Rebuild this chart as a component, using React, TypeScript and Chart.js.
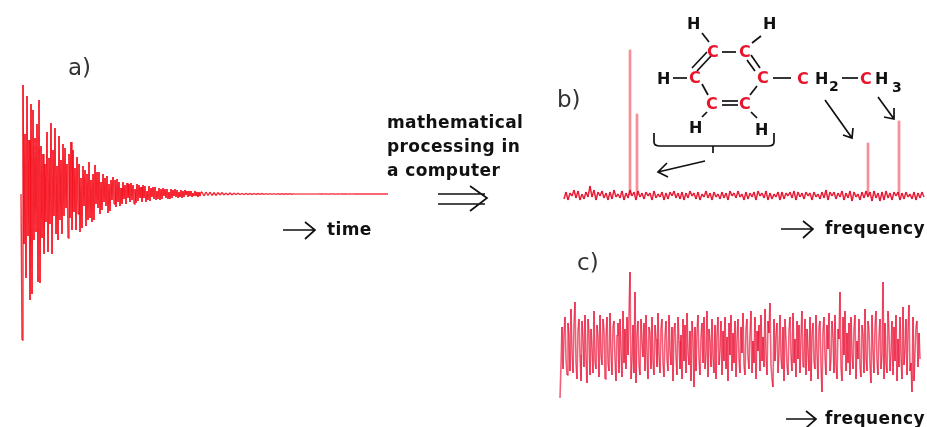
import React, { useEffect, useRef } from "react";
import { Chart, registerables } from "chart.js";

Chart.register(...registerables);

// a) free induction decay, one reading per time step
const fidHead = [
  0,-146,109,-50,60,-84,98,-42,54,-106,90,-100,84,-46,56,-38,70,-88,94,-89,48,
  -44,40,-60,30,-28,62,-58,36,-30,71,-60,44,-22,66,-40,28,-46,58,-26,34,
  -40,50,-22,46,-14,30,-44,40,-24,52,-36,44,-18,26,-36,37,-20,30,-38,16,
  -34,28,-12,24,-32,20,-26,32,-24,14,-28,20,-26,29,-10,22,-14,22,-20,12,
  -16,20,-8,16,-12,18,-19,10,-17,14,-6,17,-10,14,-13,15,-8,12,-12,6,
  -10,12,-5,9,-10,11,-4,10,-8,11,-6,9,-10,5,-9,10,-7,9,-4,7,
  -8,9,-4,8,-8,3,-6,8,-7,6,-3,7,-5,7,-6,3,-5,6,-6,5,
  -5,6,-2,5,-4,5,-5,2,-5,5,-4,4,-2,5,-3,4,-4,2,-3,4,
  -4,3,-3,4,-1,3,-3,3,-2,3,-3,1,-2,3,-2,2,-3,2,-2,2,
];
const fidTail = [
  2,-2,2,-1.5,2,-1.5,1.5,-1.5,1.5,-1,1.5,-1,1,-1,1.2,-1,1,-0.8,1,-0.8,
  0.8,-0.7,0.8,-0.6,0.6,-0.6,0.6,-0.5,0.5,-0.4,0.5,-0.4,0.4,-0.4,0.4,-0.3,0.3,-0.3,0.3,-0.2,
  0.2,-0.2,0.2,-0.2,0.2,-0.2,0.1,-0.1,0.1,-0.1,0.1,-0.1,0.1,-0.1,0.1,-0.1,0.1,-0.1,0.1,0,
  0,0.1,0,-0.1,0,0.1,0,-0.1,0,0.1,0,0,0,-0.1,0,0.1,0,0,0,0,
  0,0,0,0,0,0,0,0,0,0,0,0,0,0,
];

// b) clean spectrum: baseline noise and the four carbon peaks
const baselineB = [
  -4,3,-5,2,-1,5,-3,4,-5,1,-4,3,-2,9,-2,5,-5,3,-1,4,
  -3,2,-5,3,-4,5,-2,1,-3,4,-5,2,-3,5,-1,3,-5,4,-2,2,
  -4,3,-1,2,-5,4,-3,1,-2,3,-5,2,-4,3,-1,4,-3,2,-4,3,
  -5,2,-3,4,-1,2,-4,3,-5,1,-2,4,-3,2,-5,3,-2,1,-4,3,
  -3,2,-5,4,-1,2,-3,4,-2,1,-5,3,-4,2,-2,3,-5,4,-1,2,
  -3,4,-5,2,-4,1,-2,3,-5,3,-4,2,-1,3,-3,4,-5,3,-2,2,
  -4,3,-1,2,-5,3,-2,1,-4,3,-3,5,-5,3,-1,3,-4,2,-2,4,
  -5,2,-3,4,-6,3,-2,1,-5,3,-3,4,-2,3,-6,4,-3,2,-6,3,
  -5,4,-3,2,-5,3,-1,3,-5,2,-4,3,-2,1,-4,3,-5,2,-3,3,-2,
];
const peakFrequency = [66, 73, 304, 335];
const peakHeight = [145, 81, 52, 74];

// c) noisy spectrum, one reading per step
const noisyC = [
  -53,-20,18,-24,10,28,-14,-30,22,8,-26,36,-6,-28,20,43,-18,-34,14,26,
  -10,-36,24,6,-22,30,-12,-38,26,12,-30,16,-4,-28,34,-16,-24,20,8,-32,
  30,-10,-20,26,14,-34,6,28,-18,-26,32,-8,-30,18,24,-14,-36,10,22,-28,
  26,-6,-32,34,-18,16,-24,28,-10,30,73,-34,-16,20,-28,53,-38,10,24,-20,
  -30,26,4,-12,22,-26,30,-8,-34,18,12,-24,28,-16,-30,20,6,-22,32,-10,
  -28,16,26,-18,-32,8,24,-14,-26,30,-6,-20,18,-36,14,22,-12,-30,28,4,
  -24,10,-34,26,-16,20,-28,32,-8,-20,14,-36,24,6,-42,18,-26,12,30,-14,
  -30,8,22,-18,28,-24,-10,34,-32,16,4,-22,26,-12,-28,20,-34,10,28,-20,
  -6,24,-30,14,-16,28,-24,8,-36,22,-10,30,-26,12,-18,24,-32,6,26,-14,
  -28,18,-8,32,-20,-30,16,26,-12,-24,10,34,-28,4,-18,28,-34,14,-6,20,
  -26,30,-16,8,-22,36,-10,-30,24,12,42,-20,-34,-42,26,-16,10,22,-28,-6,
  30,-12,-24,18,-36,26,4,-20,-30,14,28,-10,-26,32,-18,6,-32,24,-14,20,
  -28,8,34,-22,-12,26,-30,16,-6,-26,28,-36,10,22,-16,-24,30,-8,-34,18,
  24,-20,-47,14,28,-12,-30,20,-4,32,-26,-14,24,8,-28,30,-18,-34,16,6,
  53,-22,-36,28,-10,34,-26,12,-18,22,-30,28,-8,-24,16,30,-34,4,-14,26,
  -22,-32,20,10,-28,36,-12,-26,24,14,-20,-38,30,-6,-28,18,34,-16,-30,8,
  26,-24,-10,63,-34,22,-18,-28,34,12,-26,-8,24,-30,18,-16,30,-36,6,-22,
  28,-12,-34,38,-20,-4,26,-30,14,40,-26,-18,-47,28,-36,-8,18,24,-22,12,-14,
];

const fidPoints = [
  ...fidHead.map((y, i) => ({ x: i, y })),
  ...fidTail.map((y, i) => ({ x: fidHead.length + i * 2, y })),
];
const baselinePoints = baselineB.map((y, i) => ({ x: i * 2, y }));
const peakPoints = peakFrequency.map((x, i) => ({ x, y: peakHeight[i] }));
const noisyPoints = noisyC.map((y, i) => ({ x: i, y }));

function hiddenScales(xMin: number, xMax: number, yMin: number, yMax: number) {
  return {
    x: { type: "linear", display: false, offset: false, min: xMin, max: xMax },
    y: { display: false, min: yMin, max: yMax },
  };
}

// Two near-identical colours so every segment is stroked on its own and the alpha builds up.
const layered = (r: number, g: number, b: number, alpha: number) => ({
  borderColor: (ctx: any) => `rgba(${r},${g},${b + (ctx.p0DataIndex % 2)},${alpha})`,
});

function makeChart(canvas: HTMLCanvasElement, datasets: any[], scales: any) {
  return new Chart(canvas, {
    type: "line",
    data: { datasets },
    options: {
      animation: false,
      responsive: false,
      layout: { padding: 0 },
      plugins: { legend: { display: false }, tooltip: { enabled: false } },
      elements: { point: { radius: 0 }, line: { tension: 0 } },
      scales,
    },
  } as any);
}

const panel = (left: number, top: number): React.CSSProperties => ({
  position: "absolute",
  left,
  top,
});

const ink = "#111";
const bonds = [
  "M702 33L709 42", "M722 52L736 52", "M752 43L761 36", "M692 68L707 52", "M697 71L711 56",
  "M751 55L760 68", "M747 60L755 71", "M673 78L687 78", "M702 84L708 95", "M757 86L750 95",
  "M722 101L738 101", "M722 105L738 105", "M707 112L702 117", "M751 112L757 118",
  "M773 78L791 78", "M842 78L858 78",
  "M654 133L654 142Q654 146 660 146L768 146Q774 146 774 142L774 133M713 146L713 153",
  "M705 161L658 172M667 163L658 172L668 177",
  "M825 100L852 138M843 135L852 138L853 128",
  "M878 97L894 119M884 117L894 119L894 108",
  "M283 230L315 230M305 222L315 230L305 239",
  "M438 194L485 194M438 204L485 204M470 186L487 198L470 211",
  "M781 229L813 229M803 221L813 229L803 238",
  "M786 419L816 419M806 411L816 419L806 428",
];
const carbons = [[707,57],[739,57],[689,83],[757,83],[706,109],[739,109],[797,84],[860,84]];
const hydrogens = [[687,29],[763,29],[657,84],[689,133],[755,135],[815,84],[875,84]];

export default function App() {
  const a = useRef<HTMLCanvasElement>(null);
  const b = useRef<HTMLCanvasElement>(null);
  const c = useRef<HTMLCanvasElement>(null);

  useEffect(() => {
    const charts = [
      makeChart(
        a.current!,
        [{ data: fidPoints, borderColor: "rgba(245,0,15,0.8)", borderWidth: 1.4, segment: layered(245, 0, 15, 0.8) }],
        hiddenScales(-5, 375, -151, 114),
      ),
      makeChart(
        b.current!,
        [
          { data: baselinePoints, borderColor: "rgba(228,0,30,0.85)", borderWidth: 1.5, segment: layered(228, 0, 30, 0.85) },
          { type: "bar", data: peakPoints, backgroundColor: "rgba(240,50,70,0.55)", barThickness: 2 },
        ],
        hiddenScales(-4, 363, -11, 155),
      ),
      makeChart(
        c.current!,
        [{ data: noisyPoints, borderColor: "rgba(232,0,40,0.62)", borderWidth: 1.6, segment: layered(232, 0, 40, 0.62) }],
        hiddenScales(-5, 367, -60, 80),
      ),
    ];
    return () => charts.forEach((ch) => ch.destroy());
  }, []);

  const bold = { fontFamily: "'DejaVu Sans'", fontWeight: 700, fill: ink } as const;
  const label = { fontFamily: "'DejaVu Sans'", fontSize: 23, fill: "#333" } as const;

  return (
    <div style={{ position: "absolute", left: 0, top: 0, width: 927, height: 427, background: "#fff", overflow: "hidden", filter: "blur(0.55px)" }}>
      <canvas ref={a} width={380} height={265} style={panel(16, 80)} />
      <canvas ref={b} width={367} height={166} style={panel(560, 40)} />
      <canvas ref={c} width={372} height={140} style={panel(555, 265)} />
      <svg width={927} height={427} style={panel(0, 0)}>
        <g fill="none" stroke={ink} strokeWidth={1.7}>
          {bonds.map((d) => <path key={d} d={d} />)}
        </g>
        <text x={68} y={75} {...label}>a)</text>
        <text x={557} y={107} {...label}>b)</text>
        <text x={577} y={270} {...label}>c)</text>
        <g {...bold} fontSize={17} letterSpacing={0.4}>
          <text x={387} y={128}>mathematical</text>
          <text x={387} y={152}>processing in</text>
          <text x={387} y={176}>a computer</text>
          <text x={327} y={235}>time</text>
          <text x={825} y={234}>frequency</text>
          <text x={825} y={424}>frequency</text>
        </g>
        <g {...bold} fontSize={16}>
          {hydrogens.map(([x, y]) => <text key={`${x}-${y}`} x={x} y={y}>H</text>)}
          <text x={829} y={91} fontSize={14}>2</text>
          <text x={892} y={92} fontSize={14}>3</text>
        </g>
        <g {...bold} fontSize={16} style={{ fill: "#e8142c" }}>
          {carbons.map(([x, y]) => <text key={`${x}-${y}`} x={x} y={y}>C</text>)}
        </g>
      </svg>
    </div>
  );
}
